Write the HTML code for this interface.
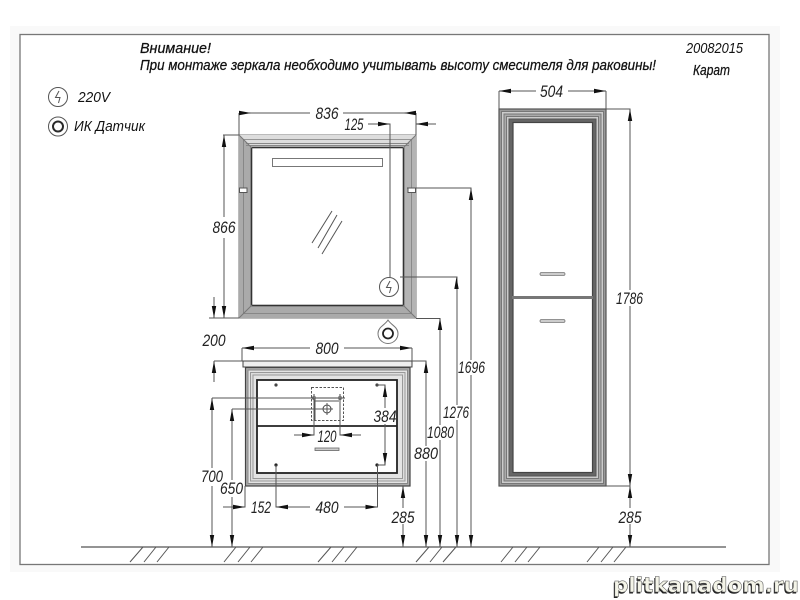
<!DOCTYPE html>
<html><head><meta charset="utf-8"><style>
html,body{margin:0;padding:0;background:#fff}
svg{display:block;filter:blur(.35px)}
text{font-family:"Liberation Sans","DejaVu Sans",sans-serif;font-style:italic;fill:#111}
.t{stroke:#111;stroke-width:.25px;font-size:14.500px}
.d{font-size:16.500px;text-anchor:middle;fill:#222}
.l{fill:none;stroke:#555;stroke-width:1}
.f{fill:none;stroke:#777;stroke-width:1}
.k{fill:none;stroke:#2a2a2a;stroke-width:2}
.w{font-family:"DejaVu Sans","Liberation Sans",sans-serif;font-style:normal;font-weight:bold;font-size:20px}
</style></head><body>
<svg width="800" height="600" viewBox="0 0 800 600" xmlns="http://www.w3.org/2000/svg">
<rect width="800" height="600" fill="#fff"/>
<rect x="10" y="26" width="770" height="546" fill="#f9f9f9"/>
<rect x="20" y="34.500" width="749" height="530" fill="#fff" stroke="#777" stroke-width="1.300"/>

<text class="t" x="140" y="53" textLength="71" lengthAdjust="spacingAndGlyphs">Внимание!</text>
<text class="t" x="140" y="70" textLength="516" lengthAdjust="spacingAndGlyphs">При монтаже зеркала необходимо учитывать высоту смесителя для раковины!</text>
<text class="t" x="686" y="53" textLength="57" lengthAdjust="spacingAndGlyphs" style="stroke-width:0">20082015</text>
<text class="t" x="693" y="75" textLength="37" lengthAdjust="spacingAndGlyphs">Карат</text>
<text class="t" x="78" y="102" textLength="32" lengthAdjust="spacingAndGlyphs" style="stroke-width:0">220V</text>
<text class="t" x="74" y="131" textLength="71" lengthAdjust="spacingAndGlyphs" style="stroke-width:0">ИК Датчик</text>

<!-- legend icons -->
<circle cx="58" cy="97" r="9.500" class="l"/>
<path d="M59 91L55.500 97.500H60L58.500 103" class="l"/>
<circle cx="58" cy="126.500" r="9.500" class="l"/>
<circle cx="58" cy="126.500" r="5" class="k"/>

<!-- mirror -->
<rect x="239" y="135" width="177" height="183" fill="#fff" stroke="#777"/>
<path d="M239 135H416L403 148H252Z" fill="#ddd"/>
<path d="M239 318H416L403 305H252Z" fill="#aaa"/>
<path d="M239 135V318L252 305V148Z" fill="#aaa"/>
<path d="M416 135V318L403 305V148Z" fill="#b4b4b4"/>
<rect x="243.500" y="139.500" width="168" height="174" class="f" stroke-opacity=".7"/>
<path d="M246 143.500H409M246 145.500H409" stroke="#888" fill="none"/>
<rect x="251.500" y="147.500" width="152" height="158" fill="#fff" stroke="#333" stroke-width="1.600"/>
<path d="M239 135L252 148M416 135L403 148M239 318L252 305M416 318L403 305" class="f"/>
<rect x="272.500" y="158.500" width="110" height="8" fill="#fff" stroke="#777"/>
<rect x="239.500" y="188" width="7.500" height="4.500" fill="#fff" stroke="#555"/>
<rect x="408" y="188" width="7.500" height="4.500" fill="#fff" stroke="#555"/>
<path d="M312 243L332 211M318 248L337 215M322 254L342 221" class="l"/>

<!-- mirror dims -->
<path d="M239 135V113M416 135V113M239.500 113H310M343 113H416" class="l"/>
<path d="M239 110.800L251 113L239 115.200Z M416 110.800L404 113L416 115.200Z" fill="#111"/>
<text x="327" y="119" class="d" textLength="23" lengthAdjust="spacingAndGlyphs">836</text>
<text x="354" y="130" class="d" textLength="19" lengthAdjust="spacingAndGlyphs">125</text>
<path d="M368 124H390V277M416 124H436" class="l"/>
<path d="M390 124L378 121.800V126.200Z M416 124L428 121.800V126.200Z" fill="#111"/>
<circle cx="389" cy="287" r="9.500" fill="#fff" stroke="#555"/>
<path d="M390 281L386.500 287.500H391L389.500 293" class="l"/>
<path d="M223 135H239M224 135V217M224 238V318M209 318H239" class="l"/>
<path d="M224 135L221.800 147H226.200Z M224 318L221.800 306H226.200Z" fill="#111"/>
<text x="224" y="233" class="d" textLength="23" lengthAdjust="spacingAndGlyphs">866</text>
<path d="M214 297V318M214 361V382M214 361H243" class="l"/>
<path d="M214 318L211.800 306H216.200Z M214 361L211.800 373H216.200Z" fill="#111"/>
<text x="214" y="346" class="d" textLength="23" lengthAdjust="spacingAndGlyphs">200</text>

<!-- sensor -->
<path d="M388 320C391 325 398 327 398 333.500A10 10 0 0 1 378 333.500C378 327 385 325 388 320Z" fill="#fff" stroke="#777"/>
<circle cx="388" cy="333.500" r="5" fill="#fff" stroke="#222" stroke-width="1.800"/>

<!-- vanity -->
<rect x="243" y="361" width="169" height="6" fill="#eee" stroke="#444"/>
<rect x="245.500" y="367.500" width="164.500" height="118.500" fill="#aaa" stroke="#444" stroke-width="1.200"/>
<rect x="248" y="370" width="159.500" height="113.500" fill="#e4e4e4" stroke="#888"/>
<rect x="250.500" y="372.500" width="154.500" height="108.500" fill="#ddd" stroke="#999"/>
<rect x="253" y="375" width="149.500" height="103.500" fill="#e4e4e4" stroke="#999"/>
<rect x="257" y="380" width="140" height="93" fill="#fff" stroke="#222" stroke-width="1.800"/>
<path d="M257 426H397" stroke="#222" stroke-width="1.800" fill="none"/>
<rect x="311.500" y="387.500" width="32" height="33" fill="none" stroke="#555" stroke-dasharray="2.500 1.500"/>
<path d="M315 401H339M315 398V420M340 398V420" class="l"/>
<path d="M311 398H345M314 394V402M340 394V402" stroke="#444" stroke-width="1" fill="none"/>
<circle cx="314" cy="398" r="2.200" fill="#777"/><circle cx="340" cy="398" r="2.200" fill="#777"/>
<circle cx="327" cy="409" r="4" fill="#fff" stroke="#444"/>
<path d="M321 409H333M327 403V415" class="l"/>
<rect x="315" y="448" width="24" height="2.500" fill="#ccc" stroke="#666" stroke-width=".8"/>
<circle cx="276" cy="385" r="1.600" fill="#444"/><circle cx="377" cy="385" r="1.600" fill="#444"/>
<circle cx="276" cy="465" r="1.600" fill="#222"/><circle cx="377" cy="465" r="1.600" fill="#222"/>

<!-- vanity dims -->
<path d="M242 361V348M412 361V348M242 348H310M344 348H412" class="l"/>
<path d="M242 348L254 345.800V350.200Z M412 348L400 345.800V350.200Z" fill="#111"/>
<text x="327" y="354" class="d" textLength="23" lengthAdjust="spacingAndGlyphs">800</text>
<path d="M412 361H426V547" class="l"/>
<path d="M426 361L423.800 373H428.200Z M426 547L423.800 535H428.200Z" fill="#111"/>
<path d="M416 318.500H440V547M407 188H471V547M400 277H457V547" class="l"/>
<path d="M440 547L437.800 535H442.200Z M456.500 277L454.300 289H458.700Z M457 547L454.800 535H459.200Z M471 188L468.800 200H473.200Z M471 547L468.800 535H473.200Z M440 318L437.800 330H442.200Z" fill="#111"/>
<rect x="413" y="446" width="26" height="15" fill="#fff"/>
<rect x="427" y="425" width="28" height="15" fill="#fff"/>
<rect x="443" y="405" width="27" height="15" fill="#fff"/>
<rect x="458" y="360" width="28" height="15" fill="#fff"/>
<text x="426" y="459" class="d" textLength="24" lengthAdjust="spacingAndGlyphs">880</text>
<text x="440.500" y="438" class="d" textLength="27" lengthAdjust="spacingAndGlyphs">1080</text>
<text x="456" y="418" class="d" textLength="26" lengthAdjust="spacingAndGlyphs">1276</text>
<text x="471.500" y="373" class="d" textLength="27" lengthAdjust="spacingAndGlyphs">1696</text>

<path d="M212 398H314M232 409H327M212 398V468M212 486V547M232 409V480M232 497V547" class="l"/>
<path d="M212 398L209.800 410H214.200Z M212 547L209.800 535H214.200Z M232 409L229.800 421H234.200Z M232 547L229.800 535H234.200Z" fill="#111"/>
<text x="212" y="482" class="d" textLength="22" lengthAdjust="spacingAndGlyphs">700</text>
<text x="231.500" y="494" class="d" textLength="23" lengthAdjust="spacingAndGlyphs">650</text>
<path d="M223 507H245V486M276 465V507H310M344 507H377.500V465" class="l"/>
<path d="M245 507L233 504.800V509.200Z M276 507L288 504.800V509.200Z M377.500 507L365.500 504.800V509.200Z" fill="#111"/>
<text x="261" y="513" class="d" textLength="20" lengthAdjust="spacingAndGlyphs">152</text>
<text x="327" y="513" class="d" textLength="23" lengthAdjust="spacingAndGlyphs">480</text>
<path d="M314 398V435H294M340 398V435H361" class="l"/>
<path d="M314 435L302 432.800V437.200Z M340 435L352 432.800V437.200Z" fill="#111"/>
<text x="327" y="442" class="d" textLength="19" lengthAdjust="spacingAndGlyphs">120</text>
<path d="M377 385H385V408M385 424V465H377" class="l"/>
<path d="M385 385L382.800 397H387.200Z M385 465L382.800 453H387.200Z" fill="#111"/>
<text x="385" y="422" class="d" textLength="23" lengthAdjust="spacingAndGlyphs">384</text>
<path d="M403 486V508M403 524V547" class="l"/>
<path d="M403 486L400.800 498H405.200Z M403 547L400.800 535H405.200Z" fill="#111"/>
<text x="403" y="523" class="d" textLength="23" lengthAdjust="spacingAndGlyphs">285</text>

<!-- column -->
<rect x="499" y="109" width="107" height="377" fill="#999" stroke="#555" stroke-width="1.200"/>
<rect x="501.500" y="111.500" width="102" height="372" fill="#ccc" stroke="#777"/>
<rect x="504" y="114" width="97" height="367" fill="#aaa" stroke="#777"/>
<rect x="506.500" y="116.500" width="92" height="362" fill="#ccc" stroke="#777"/>
<rect x="509" y="119" width="87" height="357" fill="#666" stroke="#555"/>
<rect x="513" y="122.500" width="79.500" height="350" fill="#fff" stroke="#444" stroke-width="1.200"/>
<rect x="512" y="296" width="81" height="3" fill="#777"/>
<rect x="540" y="272.500" width="25" height="3" rx="1.500" fill="#ccc" stroke="#777" stroke-width=".8"/>
<rect x="540" y="319.500" width="25" height="3" rx="1.500" fill="#ccc" stroke="#777" stroke-width=".8"/>

<!-- column dims -->
<path d="M499 109V91M606 109V91M499 91H536M568 91H606" class="l"/>
<path d="M499 91L511 88.800V93.200Z M606 91L594 88.800V93.200Z" fill="#111"/>
<text x="551.500" y="97" class="d" textLength="23" lengthAdjust="spacingAndGlyphs">504</text>
<path d="M606 109H630V290M630 306V508M630 524V547M606 486H630" class="l"/>
<path d="M630 109L627.800 121H632.200Z M630 486L627.800 474H632.200Z M630 486L627.800 498H632.200Z M630 547L627.800 535H632.200Z" fill="#111"/>
<text x="629.500" y="304" class="d" textLength="27" lengthAdjust="spacingAndGlyphs">1786</text>
<text x="630" y="523" class="d" textLength="23" lengthAdjust="spacingAndGlyphs">285</text>

<!-- floor -->
<path d="M81 547H726" stroke="#555" stroke-width="1.200"/>
<path d="M130 562L143 547M144 562L156 547M157 562L169 547
M224 562L236 547M238 562L250 547M251 562L263 547
M318 562L331 547M332 562L344 547M345 562L357 547
M416 562L429 547M430 562L442 547M443 562L456 547
M501 562L513 547M515 562L527 547M528 562L540 547
M587 562L599 547M601 562L613 547M614 562L626 547" class="l"/>

<!-- watermark -->
<text class="w" x="612" y="593.500" textLength="186" lengthAdjust="spacingAndGlyphs" style="fill:#222">plitkanadom.ru</text>
<text class="w" x="613" y="592" textLength="186" lengthAdjust="spacingAndGlyphs" style="fill:#f4f4e8;stroke:#555;stroke-width:.5">plitkanadom.ru</text>
</svg>
</body></html>
